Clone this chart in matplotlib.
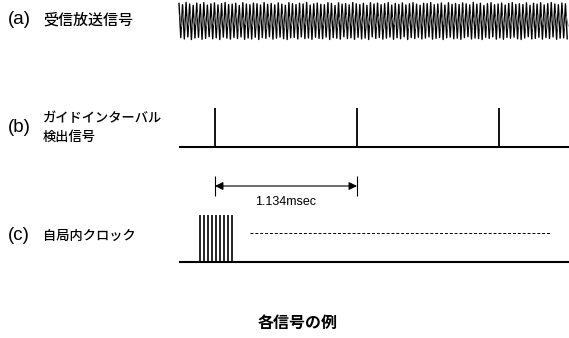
import numpy as np
import matplotlib
matplotlib.use('Agg')
import matplotlib.pyplot as plt

plt.rcParams['font.family'] = ['Noto Sans CJK JP', 'DejaVu Sans']

# guard interval detection pulses (msec)
guard_t = [0.0, 1.134, 2.268]
interval_label = '1.134msec'

# local clock burst (msec)
clock_t = [-0.12, -0.088, -0.056, -0.024, 0.008, 0.04, 0.072, 0.104, 0.136]
clock_dash = [0.28, 2.68]

# received broadcast signal, peaks per cycle (normalized)
tops = [0.95, 0.88, 1.00, 0.92, 0.85, 0.97, 0.90, 0.99, 0.86, 0.93,
        0.98, 0.87, 0.94, 1.00, 0.89, 0.91, 0.96, 0.84, 0.99, 0.92,
        0.88, 0.97, 0.93, 0.86, 1.00, 0.90, 0.95, 0.87, 0.98, 0.91,
        0.85, 0.99, 0.94, 0.89, 0.96, 0.92, 1.00, 0.86, 0.93, 0.97,
        0.90, 0.88, 0.99, 0.95, 0.84, 0.98, 0.91, 0.94, 0.87, 1.00,
        0.93, 0.89, 0.96, 0.85, 0.99, 0.92, 0.97, 0.88, 0.94, 1.00,
        0.86, 0.95, 0.90, 0.98, 0.87, 0.93, 0.99, 0.91, 0.85, 0.96,
        0.94, 1.00, 0.88, 0.92, 0.97, 0.86, 0.99, 0.90, 0.95, 0.89,
        0.98, 0.93, 0.87, 1.00, 0.91, 0.96, 0.84, 0.94, 0.99, 0.88,
        0.92, 0.97, 0.86, 0.95, 1.00, 0.90, 0.93, 0.89, 0.98, 0.85,
        0.96, 0.91, 0.99, 0.87, 0.94, 1.00, 0.92, 0.88, 0.97, 0.93]
bottoms = [-0.90, -0.97, -0.86, -1.00, -0.92, -0.88, -0.99, -0.94, -0.85, -0.96,
           -0.91, -1.00, -0.87, -0.93, -0.98, -0.89, -0.95, -0.86, -0.99, -0.92,
           -0.97, -0.88, -1.00, -0.90, -0.94, -0.85, -0.98, -0.93, -0.87, -0.96,
           -1.00, -0.91, -0.89, -0.97, -0.86, -0.95, -0.92, -0.99, -0.88, -0.94,
           -0.96, -0.87, -1.00, -0.90, -0.93, -0.98, -0.85, -0.95, -0.91, -0.99,
           -0.88, -0.97, -0.92, -1.00, -0.86, -0.94, -0.89, -0.98, -0.93, -0.87,
           -0.99, -0.91, -0.96, -0.85, -1.00, -0.90, -0.95, -0.88, -0.97, -0.92,
           -0.86, -0.98, -0.94, -0.89, -1.00, -0.91, -0.87, -0.96, -0.93, -0.99,
           -0.90, -0.85, -0.97, -0.92, -0.95, -1.00, -0.88, -0.94, -0.86, -0.98,
           -0.91, -0.99, -0.89, -0.93, -0.87, -0.96, -1.00, -0.92, -0.85, -0.97,
           -0.94, -0.88, -0.98, -0.90, -0.95, -0.86, -0.99, -0.93, -0.91, -0.96]
mids = [0.30, 0.42, 0.25, 0.38, 0.20, 0.45, 0.33, 0.28, 0.40, 0.22,
        0.36, 0.44, 0.27, 0.31, 0.39, 0.24, 0.43, 0.35, 0.21, 0.37,
        0.29, 0.41, 0.26, 0.34, 0.45, 0.23, 0.32, 0.40, 0.28, 0.38,
        0.44, 0.25, 0.36, 0.30, 0.42, 0.21, 0.39, 0.33, 0.27, 0.43,
        0.24, 0.35, 0.41, 0.29, 0.37, 0.22, 0.45, 0.31, 0.26, 0.40,
        0.34, 0.28, 0.43, 0.23, 0.38, 0.32, 0.25, 0.44, 0.30, 0.36,
        0.20, 0.41, 0.35, 0.27, 0.39, 0.24, 0.42, 0.33, 0.29, 0.45,
        0.26, 0.37, 0.31, 0.40, 0.22, 0.44, 0.34, 0.28, 0.38, 0.25,
        0.43, 0.30, 0.36, 0.21, 0.41, 0.32, 0.27, 0.45, 0.35, 0.23,
        0.39, 0.29, 0.42, 0.26, 0.37, 0.33, 0.24, 0.40, 0.31, 0.44,
        0.28, 0.36, 0.22, 0.43, 0.34, 0.25, 0.41, 0.30, 0.38, 0.27]

W, H = 569, 338
fig = plt.figure(figsize=(W / 100, H / 100), dpi=100)
ax = fig.add_axes([0, 0, 1, 1])
# x in msec: first pulse at px 215, 1.134 msec = 142 px
px_per_ms = 142 / 1.134
x0, x1 = -215 / px_per_ms, (W - 215) / px_per_ms
ax.set_xlim(x0, x1)
ax.set_ylim(H, 0)
ax.axis('off')

t_start = (179 - 215) / px_per_ms

# (a) received signal
ya, amp = 21, 18.5
n = len(tops)
dt = (x1 - t_start) / n
ts = t_start + np.arange(2 * n) * dt / 2
ys = np.ravel(np.column_stack([tops, bottoms]))
ax.plot(ts, ya - amp * ys, color='black', lw=1.0)
gs = np.ravel(np.column_stack([mids, -np.array(mids)]))
ax.plot(ts + dt / 4, ya - amp * gs, color='#777777', lw=0.7)

# (b) guard interval pulses
yb, yb_top = 147, 108
ax.plot([t_start, x1], [yb, yb], color='black', lw=1.5, solid_capstyle='butt')
ax.vlines(guard_t, yb_top, yb, color='black', lw=1.3)
ya_arrow = 186
ax.vlines(guard_t[:2], 176, 196, color='black', lw=0.8)
ax.annotate('', xy=(guard_t[1], ya_arrow), xytext=(guard_t[0], ya_arrow),
            arrowprops=dict(arrowstyle='<|-|>', color='black', lw=0.8,
                            mutation_scale=12, shrinkA=0, shrinkB=0))
ax.text((guard_t[0] + guard_t[1]) / 2, 202, interval_label, ha='center', va='center',
        fontsize=9, family='Liberation Sans')

# (c) local clock
yc, yc_top = 262, 215
ax.plot([t_start, x1], [yc, yc], color='black', lw=1.5, solid_capstyle='butt')
ax.vlines(clock_t, yc_top, yc, color='black', lw=1.2)
ax.plot(clock_dash, [233, 233], color='black', lw=0.7, ls=(0, (3, 2)))

# labels
def lab(x, y, s, size, **kw):
    fig.text(x / W, 1 - y / H, s, fontsize=size, ha='left', va='center', **kw)

for y, s in [(20, '(a)'), (128, '(b)'), (236, '(c)')]:
    lab(8, y, s, 13.5, family='Liberation Sans')
lab(43, 20, '受信放送信号', 10.8, fontweight='medium')
lab(43, 118, 'ガイドインターバル', 9.5, fontweight='medium')
lab(43, 137, '検出信号', 9.5, fontweight='medium')
lab(43, 236, '自局内クロック', 9.5, fontweight='medium')

fig.text(0.5 + 13 / W, 1 - 323 / H, '各信号の例', fontsize=11.5, ha='center', va='center',
         fontweight='bold')

fig.savefig('out.png', dpi=100)
